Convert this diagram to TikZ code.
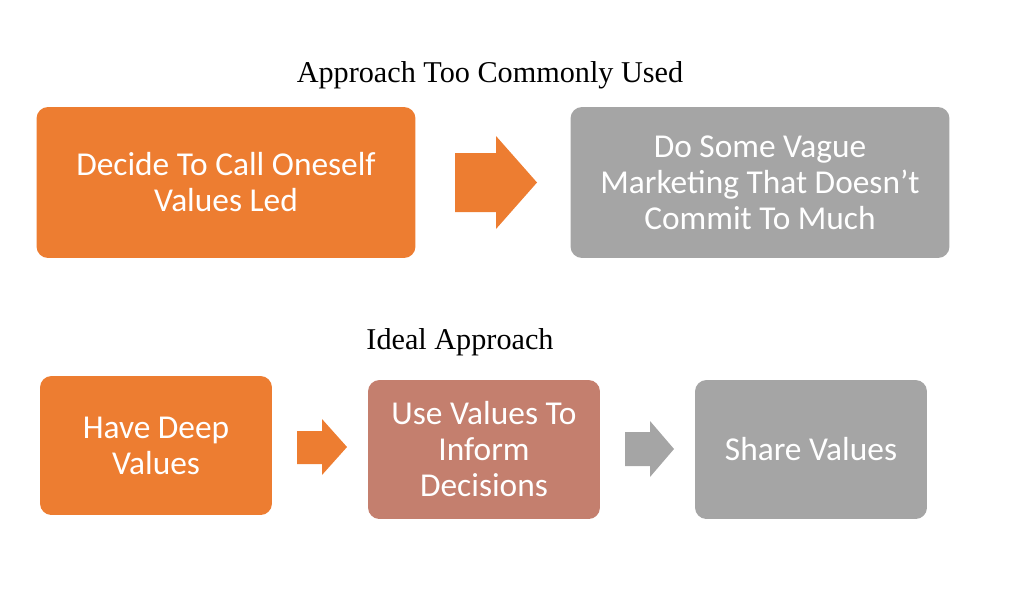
\documentclass[tikz,border=0pt]{standalone}
\usepackage{fontspec}
\setmainfont{Liberation Serif}
\newfontfamily\boxfont{Carlito}
\usetikzlibrary{positioning}
\definecolor{boxorange}{HTML}{ED7D31}
\definecolor{boxgray}{HTML}{A5A5A5}
\definecolor{boxrose}{HTML}{C47F6E}

\begin{document}
\begin{tikzpicture}[x=0.02cm, y=-0.02cm,
  stepbox/.style={rounded corners=6.5pt, text=white, align=center, inner sep=0,
    font=\boxfont\fontsize{19}{20.5}\selectfont},
  widebox/.style={stepbox, minimum width=7.58cm, minimum height=3.02cm},
  smallbox/.style={stepbox, minimum width=4.64cm, minimum height=2.78cm},
  heading/.style={font=\fontsize{17.2}{21}\selectfont}
]
\useasboundingbox (0,0) rectangle (1024,592);

% approach too commonly used
\node[heading] (top) at (490,75) {Approach Too Commonly Used};
\node[widebox, fill=boxorange] (decide) at (226,182.5) {Decide To Call Oneself\\Values Led};
\node[widebox, fill=boxgray] (vague) at (760,182.5) {Do Some Vague\\Marketing That Doesn’t\\Commit To Much};
\fill[boxorange] (455,153) -- (496,153) -- (496,136) -- (537,182.5) -- (496,229) -- (496,212) -- (455,212) -- cycle;

% ideal approach
\node[heading] (ideal) at (460,342) {Ideal Approach};
\node[smallbox, fill=boxorange] (deep) at (156,445.5) {Have Deep\\Values};
\node[smallbox, fill=boxrose] (inform) at (484,449.5) {Use Values To\\Inform\\Decisions};
\node[smallbox, fill=boxgray] (share) at (811,449.5) {Share Values};
\fill[boxorange] (297,431) -- (322,431) -- (322,419) -- (347,447) -- (322,475) -- (322,464) -- (297,464) -- cycle;
\fill[boxgray] (625,432) -- (650,432) -- (650,421) -- (674,449) -- (650,477) -- (650,466) -- (625,466) -- cycle;
\end{tikzpicture}
\end{document}
